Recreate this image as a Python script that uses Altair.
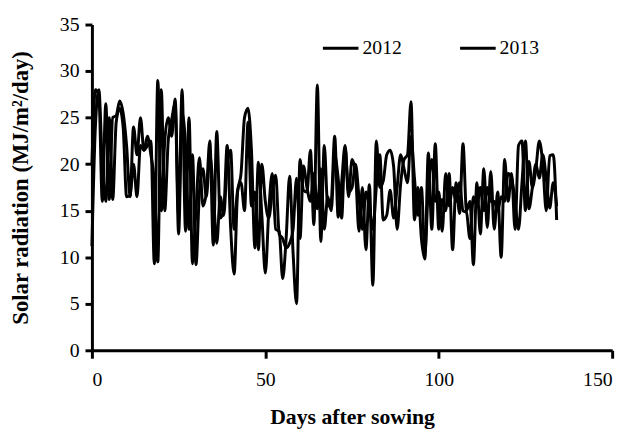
import altair as alt
import pandas as pd

years = ["2012", "2013"]

sr_2012 = [
    20, 28, 27.5, 16, 26.5, 16.2, 25, 25.2, 26.8, 25.5, 22, 16.5, 24, 21, 25, 21.5, 22, 22.5, 9.3, 29, 15,
    22.5, 25, 23, 27, 14.5, 28, 12.8, 25, 9.3, 15, 20.7, 15.5, 17, 22.5, 11.3, 23.5, 14.2, 15, 22, 13.2,
    8.2, 17, 19, 25, 26, 21.5, 11, 20.2, 14.5, 8.3, 15, 19, 13, 12.8, 7.7, 12, 18.7, 10.5, 5, 20.5,
    17.2, 17, 21.5, 13.5, 28.5, 11.7, 22, 15.5, 16, 23, 14.3, 18, 22, 16.5, 20.5, 19, 12.8, 17.5, 10.8, 17.8,
    7, 22.5, 17.5, 18.2, 21, 21.5, 19.7, 13, 17.8, 20.5, 21, 26.7, 14, 17.5, 12, 9.8, 21.2, 13, 22.2, 13,
    16.2, 15, 19, 10.8, 18, 14.7, 22.2, 15, 16, 9.2, 18, 12.5, 19.5, 13.2, 19.2, 13, 17, 10, 20.5, 16,
    19, 13, 22, 22.5, 15, 20.3, 17.5, 19.5, 22.5, 20, 15, 20.9, 21, 14,
]

sr_2013 = [
    11.2, 24, 28, 20, 16, 25, 16.2, 24.5, 26, 24, 16.5, 16.6, 20, 16.5, 22, 21.5, 23, 21, 18, 9.5, 28,
    15, 22.5, 24.8, 26.5, 12.5, 25.5, 22, 13, 21, 9.2, 17, 19.5, 16.5, 21, 17, 11.5, 16.5, 14.5, 20, 21.5,
    13, 17.2, 18, 15, 24.5, 15.5, 17, 10.8, 20, 16, 14.2, 17, 18.8, 12.5, 12, 11, 11.5, 13, 18.5, 12,
    19.8, 17.5, 16, 19, 15.2, 19.5, 13, 16.5, 15, 21, 18.5, 14.2, 21.8, 17, 17.5, 20, 16.5, 13, 17, 15.5,
    13, 17.5, 21, 14, 14.5, 17.2, 14.2, 17.5, 21, 19.5, 18, 23, 18.5, 14.5, 17.5, 10.5, 17.5, 20.5, 16, 17,
    12.8, 19, 15.5, 17.5, 16, 18, 15, 14.8, 12, 16.5, 15.5, 17.5, 15, 17.5, 16, 16, 15, 16.5, 16, 19,
    18.5, 16, 13, 18, 22.5, 15.2, 17.5, 20, 18.5, 21, 18.5, 15.3, 18, 15.5,
]

x_ticks = [0, 50, 100, 150]
y_ticks = [0, 5, 10, 15, 20, 25, 30, 35]

rows = []
for yr, vals in zip(years, [sr_2012, sr_2013]):
    for d, v in enumerate(vals):
        rows.append({"day": d, "sr": v, "year": yr})
df = pd.DataFrame(rows)

FONT = "Liberation Serif"

chart = alt.Chart(df).mark_line(strokeWidth=3, interpolate="monotone").encode(
    x=alt.X("day:Q", scale=alt.Scale(domain=[0, 150], nice=False),
            axis=alt.Axis(values=x_ticks, title="Days after sowing", grid=False,
                          labelPadding=12, titlePadding=17, tickSize=8,
                          titleFontSize=22)),
    y=alt.Y("sr:Q", scale=alt.Scale(domain=[0, 35], nice=False),
            axis=alt.Axis(values=y_ticks, title="Solar radiation (MJ/m²/day)", grid=False,
                          labelPadding=6, tickSize=7, titleX=-60, titleFontSize=23)),
    color=alt.Color("year:N", scale=alt.Scale(domain=years, range=["black", "black"]),
                    legend=alt.Legend(title=None, orient="none", legendX=232, legendY=4,
                                      direction="horizontal", symbolType="stroke",
                                      symbolSize=1300, symbolStrokeWidth=3,
                                      labelFontSize=20, labelFont=FONT, columnPadding=52,
                                      labelOffset=2, labelColor="black")),
).properties(
    width=527, height=330,
    autosize=alt.AutoSizeParams(type="none"),
    padding={"left": 85, "top": 14, "right": 12, "bottom": 80},
).configure_view(stroke=None).configure_axis(
    domainColor="black", domainWidth=3, tickColor="black", tickWidth=3,
    labelFont=FONT, labelFontSize=20, labelColor="black",
    titleFont=FONT, titleFontWeight="bold", titleColor="black",
)

chart.save("out.html", embed_options={"renderer": "svg", "actions": False})
